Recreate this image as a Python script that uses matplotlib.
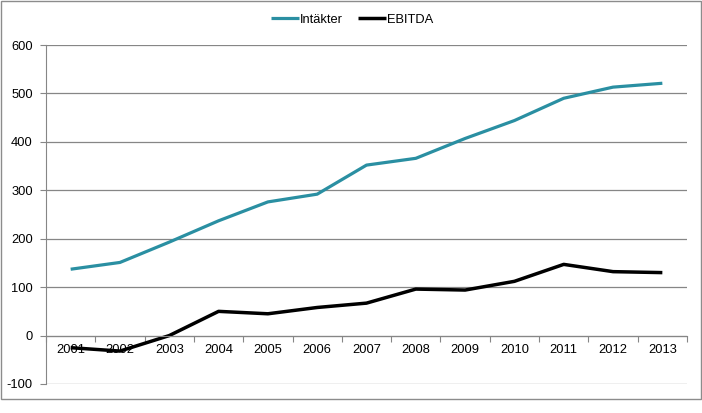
import numpy as np
import matplotlib
matplotlib.use('Agg')
import matplotlib.pyplot as plt
from matplotlib.patches import Rectangle

plt.rcParams['font.family'] = 'Liberation Sans'
plt.rcParams['axes.unicode_minus'] = False

years = ['2001', '2002', '2003', '2004', '2005', '2006', '2007',
         '2008', '2009', '2010', '2011', '2012', '2013']
intakter = [137, 151, 193, 237, 276, 292, 352, 366, 407, 444, 490, 513, 521]
ebitda = [-25, -32, 0, 50, 45, 58, 67, 96, 94, 112, 147, 132, 130]

grid_c = '#868686'
fs = 9.3
fig = plt.figure(figsize=(7.02, 4.13), dpi=100)
ax = fig.add_axes([46/702, 1-384/413, (687-46)/702, (384-45)/413])

x = np.arange(len(years))
ax.plot(x, intakter, color='#2A8FA2', lw=2.3, label='Intäkter', solid_capstyle='butt')
ax.plot(x, ebitda, color='black', lw=2.5, label='EBITDA', solid_capstyle='butt')

ax.set_xlim(-0.5, len(years) - 0.5)
ax.set_ylim(-100, 600)
ax.set_yticks(range(-100, 601, 100))
ax.yaxis.grid(True, color=grid_c, lw=0.9)
ax.set_axisbelow(True)

for s in ['top', 'right']:
    ax.spines[s].set_visible(False)
ax.spines['left'].set_color(grid_c)
ax.spines['bottom'].set_color(grid_c)
ax.spines['bottom'].set_position(('data', 0))

ax.set_xticks(np.arange(-0.5, len(years), 1))
ax.set_xticklabels([])
ax.set_xticks(x, minor=True)
ax.set_xticklabels(years, minor=True)
ax.tick_params(axis='x', which='major', direction='out', length=4, color=grid_c)
ax.tick_params(axis='x', which='minor', length=0, pad=6, labelsize=fs)
ax.tick_params(axis='y', direction='out', length=4, color=grid_c, pad=5.5, labelsize=fs)

fig.legend(loc='center', bbox_to_anchor=(352/702, 1-20/413), ncol=2, frameon=False,
           fontsize=fs, handlelength=2.15, handletextpad=0.1, columnspacing=1.15)

fig.patches.append(Rectangle((0.5/702, 1-399/413), 700.5/702, 398/413,
                             transform=fig.transFigure, fill=False,
                             edgecolor='#8C8C8C', lw=1))

fig.savefig('out.png', dpi=100)
